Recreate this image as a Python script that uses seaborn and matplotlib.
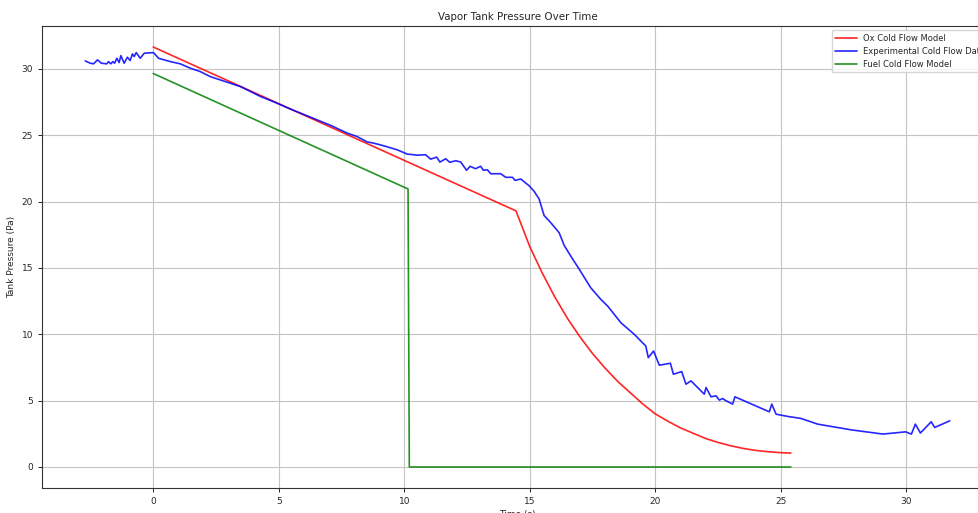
import numpy as np
import pandas as pd
import matplotlib
matplotlib.use('Agg')
import matplotlib.pyplot as plt
import seaborn as sns

# values
ox_time = [0.0, 14.45, 15.0, 15.5, 16.0, 16.5, 17.0, 17.5, 18.0, 18.5, 19.0, 19.5,
           20.0, 20.5, 21.0, 21.5, 22.0, 22.5, 23.0, 23.5, 24.0, 24.5, 25.0, 25.4]
ox_pressure = [31.65, 19.3, 16.6, 14.6, 12.8, 11.2, 9.8, 8.55, 7.45, 6.45, 5.6, 4.75,
               4.0, 3.45, 2.95, 2.55, 2.15, 1.85, 1.6, 1.4, 1.25, 1.15, 1.08, 1.05]

exp_time = [-2.71, -2.51, -2.38, -2.22, -2.07, -1.85, -1.78, -1.69, -1.61, -1.54, -1.45,
            -1.36, -1.29, -1.16, -1.03, -0.92, -0.83, -0.76, -0.68, -0.52, -0.36, 0.01,
            0.21, 0.68, 1.08, 1.48, 1.87, 2.27, 2.67, 3.07, 3.47, 3.87, 4.27, 4.67, 5.07,
            5.38, 7.06, 7.73, 8.12, 8.52, 8.79, 9.19, 9.72, 10.12, 10.52, 10.85, 11.05,
            11.29, 11.42, 11.65, 11.81, 12.05, 12.25, 12.48, 12.62, 12.84, 13.04, 13.15,
            13.31, 13.44, 13.84, 14.04, 14.31, 14.41, 14.64, 14.97, 15.17, 15.37, 15.57,
            15.84, 16.17, 16.37, 16.63, 16.97, 17.43, 17.83, 18.1, 18.63, 19.16, 19.62,
            19.72, 19.93, 20.16, 20.6, 20.72, 21.05, 21.22, 21.42, 21.95, 22.02, 22.22,
            22.42, 22.55, 22.68, 22.82, 23.08, 23.17, 24.54, 24.64, 24.81, 25.28, 25.8,
            26.47, 27.8, 29.07, 29.97, 30.2, 30.36, 30.56, 30.99, 31.13, 31.73]
exp_pressure = [30.6, 30.43, 30.38, 30.68, 30.43, 30.38, 30.55, 30.38, 30.55, 30.43, 30.8,
                30.48, 31.0, 30.43, 30.88, 30.63, 31.13, 30.93, 31.23, 30.8, 31.18, 31.23,
                30.8, 30.55, 30.38, 30.05, 29.8, 29.42, 29.17, 28.92, 28.67, 28.3, 27.92,
                27.62, 27.3, 27.04, 25.75, 25.16, 24.9, 24.5, 24.4, 24.2, 23.9, 23.58, 23.5,
                23.53, 23.2, 23.35, 22.98, 23.23, 22.96, 23.08, 22.98, 22.36, 22.66, 22.48,
                22.66, 22.36, 22.4, 22.1, 22.1, 21.83, 21.83, 21.6, 21.7, 21.2, 20.78, 20.2,
                18.95, 18.4, 17.65, 16.7, 15.9, 14.9, 13.5, 12.63, 12.13, 10.87, 10.0, 9.12,
                8.24, 8.74, 7.67, 7.82, 6.99, 7.19, 6.24, 6.49, 5.49, 5.99, 5.29, 5.36, 5.04,
                5.16, 4.99, 4.74, 5.29, 4.16, 4.74, 3.98, 3.81, 3.66, 3.23, 2.8, 2.48, 2.65,
                2.48, 3.23, 2.56, 3.41, 2.98, 3.48]

fuel_time = [0.0, 10.15, 10.2, 25.4]
fuel_pressure = [29.65, 20.95, 0.0, 0.0]

sns.set_theme(style="ticks")
plt.rcParams['font.family'] = ['DejaVu Sans']

fig = plt.figure(figsize=(9.79, 5.13), dpi=100)
# the reference is cropped on the right, so the axes runs past the figure edge
ax = fig.add_axes([42 / 979, 25 / 513, (993 - 42) / 979, 462 / 513])

series = [
    (ox_time, ox_pressure, 'Ox Cold Flow Model', 'red'),
    (exp_time, exp_pressure, 'Experimental Cold Flow Data', 'blue'),
    (fuel_time, fuel_pressure, 'Fuel Cold Flow Model', 'green'),
]
for t, p, name, col in series:
    df = pd.DataFrame({'Time (s)': t, 'Tank Pressure (Pa)': p})
    sns.lineplot(data=df, x='Time (s)', y='Tank Pressure (Pa)', ax=ax, color=col,
                 alpha=0.85, linewidth=1.2, label=name, estimator=None, sort=False)

ax.grid(True, color='#c4c4c4', linewidth=0.8)
ax.set_title('Vapor Tank Pressure Over Time', fontsize=7.4, pad=4)
ax.set_xlabel('Time (s)', fontsize=6.5, labelpad=3)
ax.set_ylabel('Tank Pressure (Pa)', fontsize=6.5, labelpad=4)
ax.tick_params(labelsize=6.5, length=3, width=0.7)
for s in ax.spines.values():
    s.set_linewidth(0.8)
    s.set_color('#333333')
ax.legend(loc='upper right', fontsize=6, frameon=True, fancybox=True,
          edgecolor='#cccccc', framealpha=0.8, handlelength=2.6)

fig.savefig('out.png', dpi=100)
